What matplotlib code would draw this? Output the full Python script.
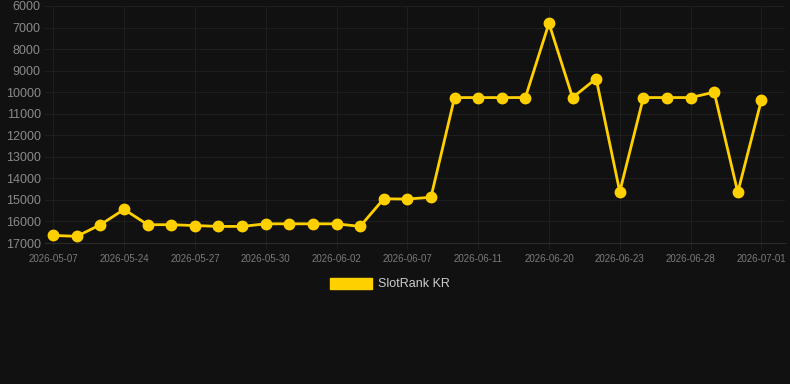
import matplotlib
matplotlib.use("Agg")
import matplotlib.pyplot as plt
from matplotlib.patches import Patch

# rank per day (lower is better, axis inverted)
ranks = [16650, 16690, 16150, 15440, 16150, 16150, 16190, 16230, 16230, 16110,
         16110, 16110, 16110, 16230, 14950, 14960, 14880, 10250, 10250, 10250,
         10250, 6800, 10250, 9370, 14620, 10250, 10250, 10250, 10000, 14650,
         10360]
tick_labels = ["2026-05-07", "2026-05-24", "2026-05-27", "2026-05-30",
               "2026-06-02", "2026-06-07", "2026-06-11", "2026-06-20",
               "2026-06-23", "2026-06-28", "2026-07-01"]
y_ticks = list(range(6000, 17001, 1000))

BG = "#111111"
GOLD = "#ffd000"


def main():
    fig = plt.figure(figsize=(7.9, 3.84), dpi=100, facecolor=BG)
    ax = fig.add_axes([45 / 790, 1 - 243 / 384, 740 / 790, 237 / 384])
    ax.set_facecolor(BG)

    x = list(range(len(ranks)))
    ax.plot(x, ranks, color=GOLD, lw=2.0, marker="o", ms=7.5,
            markeredgecolor=GOLD, zorder=3, clip_on=False)

    ax.set_ylim(17000, 6000)
    ax.set_xlim(-0.35, len(ranks) - 1 + 1.0)
    ax.set_yticks(y_ticks)
    ax.set_yticklabels([str(v) for v in y_ticks])
    ax.set_xticks(x[::3])
    ax.set_xticklabels(tick_labels)

    ax.grid(True, color="#1e1e1e", lw=0.8)
    ax.set_axisbelow(True)
    for s in ["top", "right", "left"]:
        ax.spines[s].set_visible(False)
    ax.spines["bottom"].set_color("#2a2a2a")

    ax.tick_params(axis="y", length=0, pad=3, labelsize=9, labelcolor="#8a8a8a")
    ax.tick_params(axis="x", length=4, color="#1e1e1e", pad=4,
                   labelsize=7, labelcolor="#7a7a7a")
    for lab in ax.get_xticklabels() + ax.get_yticklabels():
        lab.set_family("Liberation Sans")

    handle = Patch(facecolor=GOLD, edgecolor=GOLD)
    fig.legend([handle], ["SlotRank KR"], loc="center",
               bbox_to_anchor=(390 / 790, 1 - 284 / 384), frameon=False,
               handlelength=3.3, handleheight=1.0, handletextpad=0.5,
               prop={"family": "Liberation Sans", "size": 9}, labelcolor="#cccccc")

    fig.savefig("out.png", dpi=100, facecolor=BG)


if __name__ == "__main__":
    main()
